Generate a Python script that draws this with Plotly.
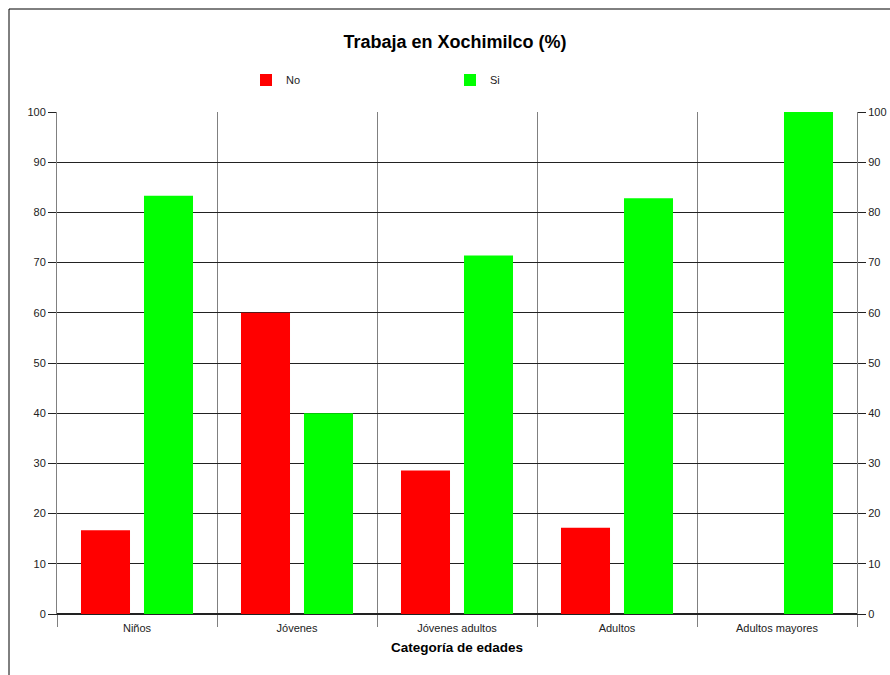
import plotly.graph_objects as go

categories = ["Niños", "Jóvenes", "Jóvenes adultos", "Adultos", "Adultos mayores"]
no_values = [16.7, 60.0, 28.6, 17.2, 0.0]
si_values = [83.3, 40.0, 71.4, 82.8, 100.0]
y_ticks = [0, 10, 20, 30, 40, 50, 60, 70, 80, 90, 100]

FONT = "Liberation Sans, Arial, sans-serif"

fig = go.Figure()
fig.add_trace(go.Bar(name="No", x=categories, y=no_values, marker=dict(color="#FF0000", line=dict(width=0))))
fig.add_trace(go.Bar(name="Si", x=categories, y=si_values, marker=dict(color="#00FF00", line=dict(width=0))))
# invisible trace to activate right-hand axis
fig.add_trace(go.Scatter(x=categories, y=si_values, yaxis="y2", mode="markers",
                         marker=dict(opacity=0), showlegend=False, hoverinfo="skip"))

fig.update_layout(
    width=890, height=675, autosize=False,
    margin=dict(l=57, r=33, t=112, b=61, autoexpand=False),
    paper_bgcolor="white", plot_bgcolor="white",
    barmode="group", bargap=0.2125, bargroupgap=0.222,
    font=dict(family=FONT, size=11, color="#222"),
    title=dict(text="<b>Trabaja en Xochimilco (%)</b>", x=(455 - 57) / 800, xref="paper", xanchor="center",
               y=1 - 42 / 675, yanchor="middle", font=dict(size=18, color="#000", family=FONT)),
    legend=dict(orientation="h", x=(246 - 57) / 800, xanchor="left", y=(614 - 80) / 502, yanchor="middle",
                entrywidth=159, entrywidthmode="pixels", itemwidth=30,
                font=dict(size=11, color="#222", family=FONT), bgcolor="rgba(0,0,0,0)", traceorder="normal"),
    xaxis=dict(type="category", tickson="boundaries", showgrid=True, gridcolor="#808080", gridwidth=1,
               ticks="outside", ticklen=12, tickcolor="#808080", showline=True, linecolor="#222",
               automargin=False, ticklabelstandoff=4, tickfont=dict(size=11, color="#222"),
               title=dict(text="<b>Categoría de edades</b>", font=dict(size=13.5, color="#000"), standoff=9)),
    yaxis=dict(range=[0, 100], tickvals=y_ticks, showgrid=True, gridcolor="#222", gridwidth=1,
               ticks="outside", ticklen=8, tickcolor="#222", showline=True, linecolor="#808080",
               automargin=False, zeroline=True, zerolinecolor="#222", tickfont=dict(size=11, color="#222")),
    yaxis2=dict(range=[0, 100], tickvals=y_ticks, overlaying="y", side="right", showgrid=False,
                ticks="outside", ticklen=8, tickcolor="#222", showline=True, linecolor="#808080",
                automargin=False, zeroline=False, tickfont=dict(size=11, color="#222")),
    shapes=[dict(type="rect", xref="paper", yref="paper", x0=(9 - 57) / 800, x1=1.2,
                 y0=-0.3, y1=(614 - 9) / 502, line=dict(color="#000", width=1), layer="below")],
)

fig.write_html("out.html", config={"displayModeBar": False},
               post_script="document.body.style.margin='0';document.body.style.overflow='hidden';")
